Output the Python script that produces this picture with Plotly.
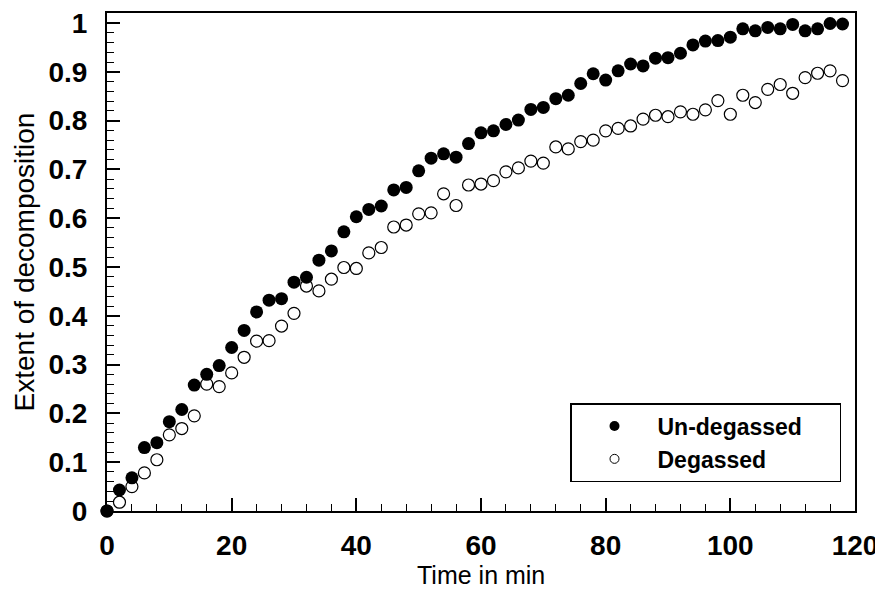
import plotly.graph_objects as go

time_min = list(range(0, 120, 2))

undegassed = [0.0, 0.043, 0.068, 0.13, 0.14, 0.183, 0.208, 0.258, 0.28, 0.298,
              0.335, 0.37, 0.408, 0.432, 0.435, 0.469, 0.479, 0.514, 0.533, 0.572,
              0.603, 0.618, 0.625, 0.658, 0.663, 0.697, 0.723, 0.732, 0.725, 0.753,
              0.775, 0.779, 0.792, 0.801, 0.823, 0.827, 0.845, 0.852, 0.876, 0.896,
              0.883, 0.902, 0.916, 0.912, 0.928, 0.929, 0.938, 0.955, 0.963, 0.964,
              0.971, 0.988, 0.984, 0.991, 0.988, 0.997, 0.984, 0.988, 0.999, 0.998]

degassed = [0.0, 0.018, 0.05, 0.078, 0.105, 0.156, 0.169, 0.195, 0.26, 0.255,
            0.283, 0.315, 0.348, 0.349, 0.379, 0.405, 0.461, 0.451, 0.475, 0.499,
            0.497, 0.529, 0.54, 0.582, 0.586, 0.609, 0.611, 0.65, 0.626, 0.668,
            0.67, 0.677, 0.695, 0.703, 0.717, 0.713, 0.746, 0.742, 0.757, 0.76,
            0.779, 0.784, 0.789, 0.803, 0.811, 0.808, 0.818, 0.813, 0.822, 0.841,
            0.813, 0.852, 0.837, 0.864, 0.874, 0.856, 0.888, 0.897, 0.902, 0.882]

series_names = ["Un-degassed", "Degassed"]
x_title = "Time in min"
y_title = "Extent of decomposition"
x_ticks = [0, 20, 40, 60, 80, 100, 120]
y_ticks = [0, 0.1, 0.2, 0.3, 0.4, 0.5, 0.6, 0.7, 0.8, 0.9, 1]
y_ticklabels = ["0", "0.1", "0.2", "0.3", "0.4", "0.5", "0.6", "0.7", "0.8", "0.9", "1"]

pad = "\u00a0" * 5  # right padding inside the legend box

fig = go.Figure()
fig.add_trace(go.Scatter(x=time_min, y=degassed, mode="markers", showlegend=False,
                         cliponaxis=False,
                         marker=dict(symbol="circle-open", size=12, color="black",
                                     line=dict(width=1.2, color="black"))))
fig.add_trace(go.Scatter(x=time_min, y=undegassed, mode="markers", showlegend=False,
                         cliponaxis=False,
                         marker=dict(symbol="circle", size=13, color="black")))
# legend entries
fig.add_trace(go.Scatter(x=[None], y=[None], mode="markers", name=series_names[0] + pad,
                         marker=dict(symbol="circle", size=10, color="black")))
fig.add_trace(go.Scatter(x=[None], y=[None], mode="markers", name=series_names[1],
                         marker=dict(symbol="circle-open", size=9, color="black",
                                     line=dict(width=1, color="black"))))

# page body adds an 8px offset; frame should land at page x 107..855, y 13..511
fig.update_layout(
    width=875, height=576,
    margin=dict(l=99, r=28, t=5, b=73),
    paper_bgcolor="white", plot_bgcolor="white",
    font=dict(family="Liberation Sans, Arial, sans-serif", color="black"),
    legend=dict(x=(570 - 107) / 748, y=(511 - 403) / 498, xanchor="left", yanchor="top",
                bordercolor="black", borderwidth=1.5, bgcolor="white",
                font=dict(size=23, family="Liberation Sans, Arial, sans-serif", weight="bold"),
                tracegroupgap=0, itemwidth=76),
    annotations=[dict(text=x_title, xref="paper", yref="paper", x=0.5, y=-0.128,
                      xanchor="center", yanchor="middle", showarrow=False,
                      font=dict(size=25, family="Liberation Sans, Arial", color="black"))],
)

fig.update_xaxes(
    range=[0, 120], showgrid=False, zeroline=False, automargin=False,
    showline=True, linecolor="black", linewidth=2, mirror=True,
    ticks="inside", ticklen=13, tickwidth=1.5, tickcolor="black",
    tickvals=x_ticks, ticktext=[str(v) for v in x_ticks],
    tickfont=dict(size=28, family="Liberation Sans, Arial", weight="bold"),
    ticklabelstandoff=8, ticklabeloverflow="allow",
    minor=dict(ticks="inside", ticklen=7, tickwidth=1.2, tickcolor="black", dtick=4, tick0=0),
)
fig.update_yaxes(
    range=[0, 1.0205], showgrid=False, zeroline=False, automargin=False,
    showline=True, linecolor="black", linewidth=2, mirror=True,
    ticks="inside", ticklen=13, tickwidth=1.5, tickcolor="black",
    tickvals=y_ticks, ticktext=y_ticklabels,
    tickfont=dict(size=28, family="Liberation Sans, Arial", weight="bold"),
    ticklabelstandoff=12, ticklabeloverflow="allow",
    minor=dict(ticks="inside", ticklen=7, tickwidth=1.2, tickcolor="black", dtick=0.02, tick0=0),
    title=dict(text=y_title, font=dict(size=28), standoff=6),
)

fig.write_html("out.html")
